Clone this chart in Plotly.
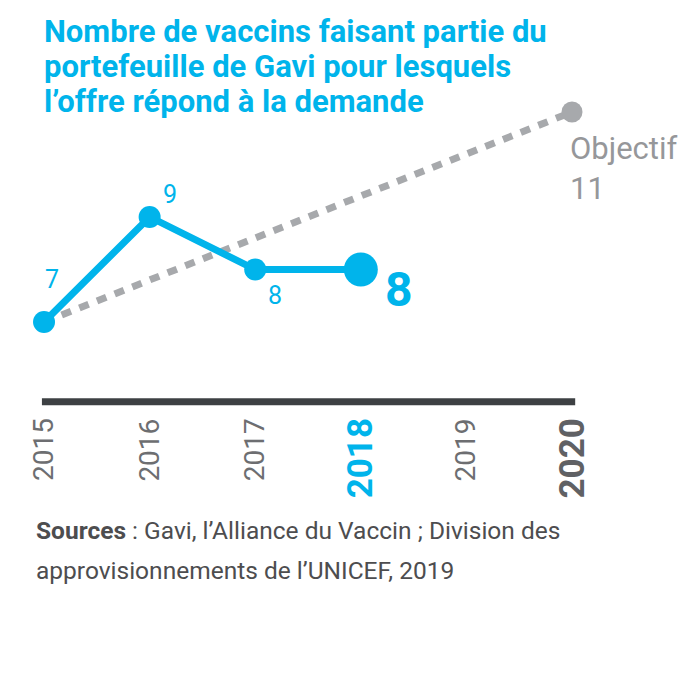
import plotly.graph_objects as go

# data
years = [2015, 2016, 2017, 2018]
values = [7, 9, 8, 8]
target_years = [2015, 2020]
target_values = [7, 11]
axis_years = [2015, 2016, 2017, 2018, 2019, 2020]
highlight_years = {2018: "#00b4eb", 2020: "#606164"}

title_lines = [
    "Nombre de vaccins faisant partie du",
    "portefeuille de Gavi pour lesquels",
    "l’offre répond à la demande",
]
source_lines = [
    "<b>Sources</b> : Gavi, l’Alliance du Vaccin ; Division des",
    "approvisionnements de l’UNICEF, 2019",
]

CYAN = "#00b4eb"
GREY = "#a7a9ac"
DARK = "#3d4043"
FONT = "Roboto"
PAD = 8  # page body margin

fig = go.Figure()

# target line (dotted)
fig.add_trace(go.Scatter(
    x=target_years, y=target_values, mode="lines",
    line=dict(color=GREY, width=7, dash="10px,9px"),
    hoverinfo="skip",
))
fig.add_trace(go.Scatter(
    x=target_years[-1:], y=target_values[-1:], mode="markers",
    marker=dict(color=GREY, size=21, opacity=1, line=dict(width=0)),
    hoverinfo="skip",
))

# actual values
fig.add_trace(go.Scatter(
    x=years, y=values, mode="lines+markers",
    line=dict(color=CYAN, width=7),
    marker=dict(color=CYAN, size=[22, 22, 22, 34], opacity=1, line=dict(width=0)),
))

# baseline axis
fig.add_trace(go.Scatter(
    x=[axis_years[0] - 0.02, axis_years[-1] + 0.03], y=[5.48, 5.48], mode="lines",
    line=dict(color=DARK, width=7), hoverinfo="skip",
))

annotations = []

# year labels
for yr in axis_years:
    bold = yr in highlight_years
    annotations.append(dict(
        x=yr, y=5.2, xref="x", yref="y",
        text=f"<b>{yr}</b>" if bold else str(yr),
        textangle=-90, showarrow=False,
        xanchor="center", yanchor="top",
        font=dict(family=FONT, size=35 if bold else 28,
                  color=highlight_years.get(yr, "#6d6e71")),
    ))

# value labels
offsets = [(8, 42), (20, 22), (20, -26)]
for (yr, v), (dx, dy) in zip(zip(years[:3], values[:3]), offsets):
    annotations.append(dict(
        x=yr, y=v, xref="x", yref="y", text=str(v), showarrow=False,
        xshift=dx, yshift=dy,
        font=dict(family=FONT, size=25, color=CYAN),
    ))
annotations.append(dict(
    x=years[-1], y=values[-1], xref="x", yref="y", text=f"<b>{values[-1]}</b>",
    showarrow=False, xshift=38, yshift=-20,
    font=dict(family=FONT, size=48, color=CYAN),
))

# target label
annotations.append(dict(
    x=target_years[-1], y=target_values[-1], xref="x", yref="y",
    text=f"Objectif<br>{target_values[-1]}", align="left", showarrow=False,
    xanchor="left", yanchor="top", xshift=-4, yshift=-16,
    font=dict(family=FONT, size=31, color="#96979a"),
))

# title, one annotation per line for tighter line spacing
for i, line in enumerate(title_lines):
    annotations.append(dict(
        x=(42 - PAD) / 700, y=1 - (11 + 35 * i - PAD) / 700,
        xref="paper", yref="paper",
        text=f"<b>{line}</b>", align="left", showarrow=False,
        xanchor="left", yanchor="top",
        font=dict(family=FONT, size=31, color=CYAN),
    ))

# source, one annotation per line for the looser line spacing
for i, line in enumerate(source_lines):
    annotations.append(dict(
        x=(34 - PAD) / 700, y=1 - (514 + 40 * i - PAD) / 700,
        xref="paper", yref="paper",
        text=line, align="left", showarrow=False,
        xanchor="left", yanchor="top",
        font=dict(family=FONT, size=24.5, color="#4d4d4f"),
    ))

fig.update_layout(
    width=700, height=700,
    margin=dict(l=0, r=0, t=0, b=0),
    paper_bgcolor="white", plot_bgcolor="white",
    showlegend=False,
    xaxis=dict(range=[2014.583 + PAD / 105.6, 2021.212 + PAD / 105.6],
               visible=False, fixedrange=True),
    yaxis=dict(range=[-0.2 - PAD / 52.5, 13.133 - PAD / 52.5],
               visible=False, fixedrange=True),
    annotations=annotations,
)

fig.write_html("out.html")
